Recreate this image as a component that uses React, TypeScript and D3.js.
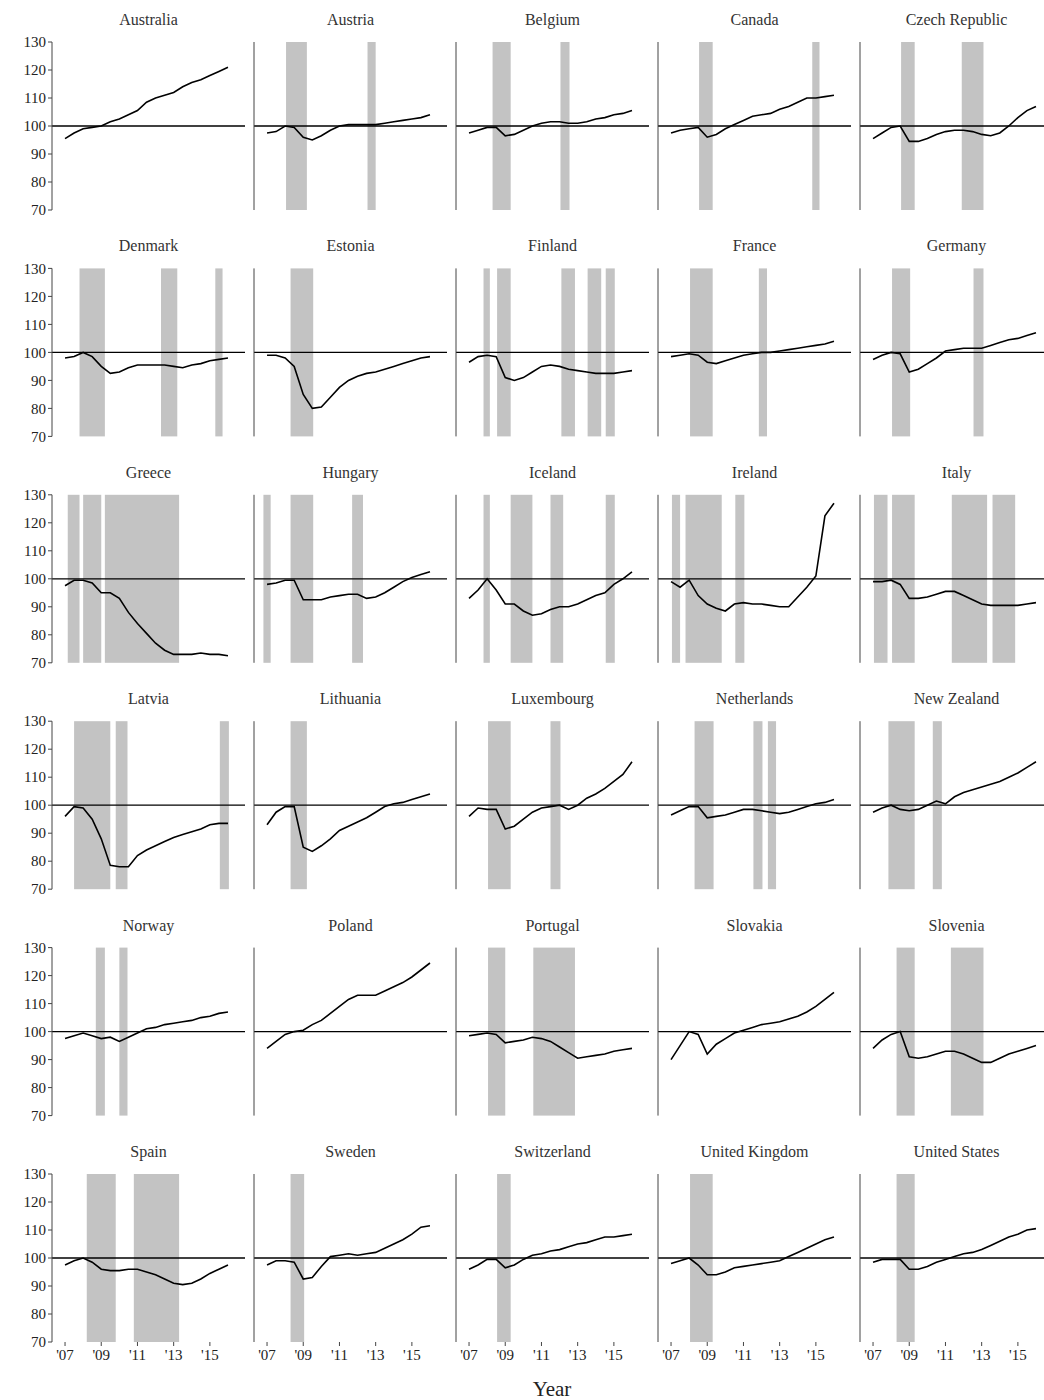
import React from 'react';
import * as d3 from 'd3';

// half-yearly points, 2007.0 .. 2016.0
const years = d3.range(19).map(i => 2007 + i * 0.5);

const countries = [
  'Australia', 'Austria', 'Belgium', 'Canada', 'Czech Republic',
  'Denmark', 'Estonia', 'Finland', 'France', 'Germany',
  'Greece', 'Hungary', 'Iceland', 'Ireland', 'Italy',
  'Latvia', 'Lithuania', 'Luxembourg', 'Netherlands', 'New Zealand',
  'Norway', 'Poland', 'Portugal', 'Slovakia', 'Slovenia',
  'Spain', 'Sweden', 'Switzerland', 'United Kingdom', 'United States',
];

const series: number[][] = [
  [95.5, 97.5, 99, 99.5, 100, 101.5, 102.5, 104, 105.5, 108.5, 110, 111, 112, 114, 115.5, 116.5, 118, 119.5, 121],
  [97.5, 98, 100, 99.5, 96, 95, 96.5, 98.5, 100, 100.5, 100.5, 100.5, 100.5, 101, 101.5, 102, 102.5, 103, 104],
  [97.5, 98.5, 99.5, 99.5, 96.5, 97, 98.5, 100, 101, 101.5, 101.5, 101, 101, 101.5, 102.5, 103, 104, 104.5, 105.5],
  [97.5, 98.5, 99, 99.5, 96, 97, 99, 100.5, 102, 103.5, 104, 104.5, 106, 107, 108.5, 110, 110, 110.5, 111],
  [95.5, 97.5, 99.5, 100, 94.5, 94.5, 95.5, 97, 98, 98.5, 98.5, 98, 97, 96.5, 97.5, 100, 103, 105.5, 107],
  [98, 98.5, 100, 98.5, 95, 92.5, 93, 94.5, 95.5, 95.5, 95.5, 95.5, 95, 94.5, 95.5, 96, 97, 97.5, 98],
  [99, 99, 98, 95, 85, 80, 80.5, 84, 87.5, 90, 91.5, 92.5, 93, 94, 95, 96, 97, 98, 98.5],
  [96.5, 98.5, 99, 98.5, 91, 90, 91, 93, 95, 95.5, 95, 94, 93.5, 93, 92.5, 92.5, 92.5, 93, 93.5],
  [98.5, 99, 99.5, 99, 96.5, 96, 97, 98, 99, 99.5, 100, 100, 100.5, 101, 101.5, 102, 102.5, 103, 104],
  [97.5, 99, 100, 99.5, 93, 94, 96, 98, 100.5, 101, 101.5, 101.5, 101.5, 102.5, 103.5, 104.5, 105, 106, 107],
  [97.5, 99.5, 99.5, 98.5, 95, 95, 93, 88, 84, 80.5, 77, 74.5, 73, 73, 73, 73.5, 73, 73, 72.5],
  [98, 98.5, 99.5, 99.5, 92.5, 92.5, 92.5, 93.5, 94, 94.5, 94.5, 93, 93.5, 95, 97, 99, 100.5, 101.5, 102.5],
  [93, 96, 100, 96, 91, 91, 88.5, 87, 87.5, 89, 90, 90, 91, 92.5, 94, 95, 98, 100, 102.5],
  [99, 97, 99.5, 94, 91, 89.5, 88.5, 91, 91.5, 91, 91, 90.5, 90, 90, 93.5, 97, 101, 122.5, 127],
  [99, 99, 99.5, 98, 93, 93, 93.5, 94.5, 95.5, 95.5, 94, 92.5, 91, 90.5, 90.5, 90.5, 90.5, 91, 91.5],
  [96, 99.5, 99, 95, 88, 78.5, 78, 78, 82, 84, 85.5, 87, 88.5, 89.5, 90.5, 91.5, 93, 93.5, 93.5],
  [93, 97.5, 99.5, 99.5, 85, 83.5, 85.5, 88, 91, 92.5, 94, 95.5, 97.5, 99.5, 100.5, 101, 102, 103, 104],
  [96, 99, 98.5, 98.5, 91.5, 92.5, 95, 97.5, 99, 99.5, 100, 98.5, 100, 102.5, 104, 106, 108.5, 111, 115.5],
  [96.5, 98, 99.5, 99.5, 95.5, 96, 96.5, 97.5, 98.5, 98.5, 98, 97.5, 97, 97.5, 98.5, 99.5, 100.5, 101, 102],
  [97.5, 99, 100, 98.5, 98, 98.5, 100, 101.5, 100.5, 103, 104.5, 105.5, 106.5, 107.5, 108.5, 110, 111.5, 113.5, 115.5],
  [97.5, 98.5, 99.5, 98.5, 97.5, 98, 96.5, 98, 99.5, 101, 101.5, 102.5, 103, 103.5, 104, 105, 105.5, 106.5, 107],
  [94, 96.5, 99, 100, 100.5, 102.5, 104, 106.5, 109, 111.5, 113, 113, 113, 114.5, 116, 117.5, 119.5, 122, 124.5],
  [98.5, 99, 99.5, 99, 96, 96.5, 97, 98, 97.5, 96.5, 94.5, 92.5, 90.5, 91, 91.5, 92, 93, 93.5, 94],
  [90, 95, 100, 99, 92, 95.5, 97.5, 99.5, 100.5, 101.5, 102.5, 103, 103.5, 104.5, 105.5, 107, 109, 111.5, 114],
  [94, 97, 99, 100, 91, 90.5, 91, 92, 93, 93, 92, 90.5, 89, 89, 90.5, 92, 93, 94, 95],
  [97.5, 99, 100, 98.5, 96, 95.5, 95.5, 96, 96, 95, 94, 92.5, 91, 90.5, 91, 92.5, 94.5, 96, 97.5],
  [97.5, 99, 99, 98.5, 92.5, 93, 97, 100.5, 101, 101.5, 101, 101.5, 102, 103.5, 105, 106.5, 108.5, 111, 111.5],
  [96, 97.5, 99.5, 99.5, 96.5, 97.5, 99.5, 101, 101.5, 102.5, 103, 104, 105, 105.5, 106.5, 107.5, 107.5, 108, 108.5],
  [98, 99, 100, 97.5, 94, 94, 95, 96.5, 97, 97.5, 98, 98.5, 99, 100.5, 102, 103.5, 105, 106.5, 107.5],
  [98.5, 99.5, 99.5, 99.5, 96, 96, 97, 98.5, 99.5, 100.5, 101.5, 102, 103, 104.5, 106, 107.5, 108.5, 110, 110.5],
];

// recession periods [start, end] in years
const recessions: [number, number][][] = [
  [],
  [[2008.05, 2009.2], [2012.55, 2013.0]],
  [[2008.3, 2009.3], [2012.05, 2012.55]],
  [[2008.55, 2009.3], [2014.8, 2015.2]],
  [[2008.55, 2009.3], [2011.9, 2013.1]],
  [[2007.8, 2009.2], [2012.3, 2013.2], [2015.3, 2015.7]],
  [[2008.3, 2009.55]],
  [[2007.8, 2008.15], [2008.55, 2009.3], [2012.1, 2012.85], [2013.55, 2014.3], [2014.55, 2015.05]],
  [[2008.05, 2009.3], [2011.85, 2012.3]],
  [[2008.05, 2009.05], [2012.55, 2013.1]],
  [[2007.15, 2007.8], [2008.0, 2009.0], [2009.2, 2013.3]],
  [[2006.8, 2007.2], [2008.3, 2009.55], [2011.7, 2012.3]],
  [[2007.8, 2008.15], [2009.3, 2010.5], [2011.5, 2012.2], [2014.55, 2015.05]],
  [[2007.05, 2007.5], [2007.8, 2009.8], [2010.55, 2011.05]],
  [[2007.05, 2007.8], [2008.05, 2009.3], [2011.35, 2013.3], [2013.6, 2014.85]],
  [[2007.5, 2009.5], [2009.8, 2010.45], [2015.55, 2016.05]],
  [[2008.3, 2009.2]],
  [[2008.05, 2009.3], [2011.5, 2012.05]],
  [[2008.3, 2009.35], [2011.55, 2012.05], [2012.35, 2012.8]],
  [[2007.85, 2009.3], [2010.3, 2010.8]],
  [[2008.7, 2009.2], [2010.0, 2010.45]],
  [],
  [[2008.05, 2009.0], [2010.55, 2012.85]],
  [],
  [[2008.3, 2009.3], [2011.3, 2013.1]],
  [[2008.2, 2009.8], [2010.8, 2013.3]],
  [[2008.3, 2009.05]],
  [[2008.55, 2009.3]],
  [[2008.05, 2009.3]],
  [[2008.3, 2009.3]],
];

const yTicks = [70, 80, 90, 100, 110, 120, 130];
const xTicks = [2007, 2009, 2011, 2013, 2015];

const FONT = '"Liberation Serif", "DejaVu Serif", serif';

const App: React.FC = () => {
  const W = 1044, H = 1400;
  const colPitch = 202, rowPitch = 226.4;
  const pw = 193, ph = 168;
  const x = d3.scaleLinear().domain([2006.28, 2016.94]).range([0, pw]);
  const y = d3.scaleLinear().domain([70, 130]).range([ph, 0]);
  const line = d3.line<number>().x((_, i) => x(years[i])).y(d => y(d));

  return (
    <svg width={W} height={H} style={{ position: 'absolute', left: 0, top: 0 }} fontFamily={FONT}>
      <rect width={W} height={H} fill="#fff" />
      {countries.map((name, k) => {
        const c = k % 5, r = Math.floor(k / 5);
        const ox = 52 + c * colPitch, oy = 42 + r * rowPitch;
        return (
          <g key={name} transform={`translate(${ox},${oy})`}>
            {recessions[k].map(([a, b], j) => (
              <rect key={j} x={x(a)} y={0} width={x(b) - x(a)} height={ph} fill="#c3c3c3" />
            ))}
            <line x1={0} x2={pw} y1={y(100)} y2={y(100)} stroke="#000" strokeWidth={1.3} />
            <path d={line(series[k]) || ''} fill="none" stroke="#000" strokeWidth={1.6} />
            <line x1={0} x2={0} y1={0} y2={ph} stroke="#444" strokeWidth={1} />
            <text x={pw / 2} y={-17} textAnchor="middle" fontSize={16} fill="#333">{name}</text>
            {c === 0 && yTicks.map(t => (
              <g key={t}>
                <line x1={-4} x2={0} y1={y(t)} y2={y(t)} stroke="#444" />
                <text x={-6} y={y(t)} dy="0.35em" textAnchor="end" fontSize={15} fill="#222">{t}</text>
              </g>
            ))}
            {r === 5 && xTicks.map(t => (
              <g key={t}>
                <line x1={x(t)} x2={x(t)} y1={ph} y2={ph + 4} stroke="#444" />
                <text x={x(t)} y={ph + 18} textAnchor="middle" fontSize={15} fill="#222">{`'${String(t).slice(2)}`}</text>
              </g>
            ))}
          </g>
        );
      })}
      <text x={552} y={1396} textAnchor="middle" fontSize={21} fill="#222">Year</text>
    </svg>
  );
};

export default App;
